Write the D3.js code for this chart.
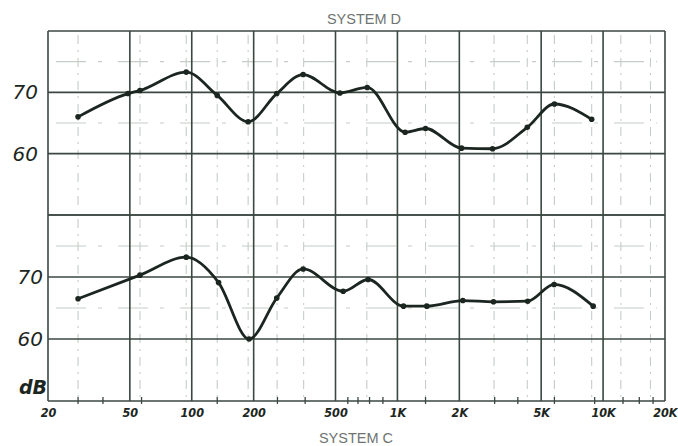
<!DOCTYPE html>
<html>
<head>
<meta charset="utf-8">
<script src="https://cdn.jsdelivr.net/npm/d3@7"></script>
<style>
  html, body { margin: 0; padding: 0; background: #ffffff; }
  svg { display: block; }
</style>
</head>
<body>
<svg id="chart" width="678" height="446"></svg>
<script>
// Frequency response of two systems, plotted on log-frequency graph paper.

// System D (upper panel)
const freqD = [28, 49, 56, 94, 133, 188, 259, 348, 525, 713, 1090, 1370, 2050, 2900, 4280, 5800, 8800];
const dbD   = [66.0, 69.8, 70.3, 73.3, 69.5, 65.2, 69.8, 72.9, 69.9, 70.8, 63.5, 64.1, 60.9, 60.8, 64.3, 68.1, 65.6];

// System C (lower panel)
const freqC = [28, 56, 94, 135, 190, 259, 348, 545, 720, 1070, 1390, 2080, 2930, 4300, 5780, 8950];
const dbC   = [66.5, 70.3, 73.2, 69.1, 60.0, 66.6, 71.3, 67.7, 69.6, 65.3, 65.3, 66.2, 66.0, 66.1, 68.8, 65.3];

// Axis labels and grid positions
const freqTicks = [20, 50, 100, 200, 500, 1000, 2000, 5000, 10000, 20000];
const freqTickLabels = ["20", "50", "100", "200", "500", "1K", "2K", "5K", "10K", "20K"];
const minorFreqs = [28, 56, 94, 133, 188, 260, 350, 710, 1370, 2950, 4280, 5800, 8800, 12200, 17000];
const smallTicks = [28, 37, 57, 133, 261, 356, 574, 643, 732, 850, 1370, 2970, 3850, 5800, 9100, 12500, 15000, 17500];
const majorDb = [50, 60, 70, 80];
const minorDb = [65, 75];
const dbLabels = [60, 70];
const titles = ["SYSTEM D", "SYSTEM C"];

const svg = d3.select("#chart");
const left = 48, right = 665;
const gridColor = "#3b4741";
const inkColor = "#1c2621";
const faintColor = "#c6cdc8";

const x = d3.scaleLog().domain([20, 20000]).range([left, right]);
const yD = d3.scaleLinear().domain([50, 80]).range([215, 31]);
const yC = d3.scaleLinear().domain([50, 80]).range([401, 215]);

const panels = [
  { y: yD, freq: freqD, db: dbD, labelPad: 10 },
  { y: yC, freq: freqC, db: dbC, labelPad: 5 }
];

// faint dashed minor grid
panels.forEach(p => {
  const [y0, y1] = [p.y(80), p.y(50)];
  svg.append("g").selectAll("line")
    .data(minorFreqs).join("line")
    .attr("x1", d => x(d)).attr("x2", d => x(d))
    .attr("y1", y0 + 4).attr("y2", y1 - 4)
    .attr("stroke", faintColor).attr("stroke-width", 1.1)
    .attr("stroke-dasharray", "9,6,2,6");
  svg.append("g").selectAll("line")
    .data(minorDb).join("line")
    .attr("x1", left + 8).attr("x2", right - 8)
    .attr("y1", d => p.y(d)).attr("y2", d => p.y(d))
    .attr("stroke", faintColor).attr("stroke-width", 1.1)
    .attr("stroke-dasharray", "30,12,4,16");
});

// major grid
panels.forEach(p => {
  svg.append("g").selectAll("line")
    .data(majorDb).join("line")
    .attr("x1", left).attr("x2", right)
    .attr("y1", d => p.y(d)).attr("y2", d => p.y(d))
    .attr("stroke", gridColor).attr("stroke-width", 1.6);
});
svg.append("g").selectAll("line")
  .data(freqTicks).join("line")
  .attr("x1", d => x(d)).attr("x2", d => x(d))
  .attr("y1", yD(80)).attr("y2", yC(50))
  .attr("stroke", gridColor).attr("stroke-width", 1.6);

// small ticks along the frequency axis
svg.append("g").selectAll("line")
  .data(smallTicks).join("line")
  .attr("x1", d => x(d)).attr("x2", d => x(d))
  .attr("y1", yC(50) - 4).attr("y2", yC(50) + 3)
  .attr("stroke", gridColor).attr("stroke-width", 1.3);

// frequency axis labels
const xAxis = d3.axisBottom(x)
  .tickValues(freqTicks)
  .tickFormat((d, i) => freqTickLabels[i])
  .tickSize(0).tickPadding(7);
const gx = svg.append("g").attr("transform", `translate(0,${yC(50)})`).call(xAxis);
gx.select(".domain").remove();
gx.selectAll("text")
  .attr("fill", inkColor)
  .style("font-family", "'DejaVu Sans Condensed', 'DejaVu Sans', sans-serif")
  .style("font-size", "12.5px").style("font-weight", "bold").style("font-style", "italic");
// keep the last label inside the page edge
gx.selectAll("text").filter(d => d === 20000).attr("text-anchor", "end").attr("dx", "12");

// dB labels for each panel
panels.forEach(p => {
  const yAxis = d3.axisLeft(p.y).tickValues(dbLabels).tickSize(0).tickPadding(p.labelPad);
  const gy = svg.append("g").attr("transform", `translate(${left},0)`).call(yAxis);
  gy.select(".domain").remove();
  gy.selectAll("text")
    .attr("fill", inkColor)
    .style("font-family", "'DejaVu Sans', sans-serif")
    .style("font-size", "20px").style("font-weight", "200").style("font-style", "italic");
});
svg.append("text")
  .attr("x", 47).attr("y", 394)
  .attr("text-anchor", "end")
  .attr("fill", inkColor)
  .style("font-family", "'DejaVu Sans', sans-serif")
  .style("font-size", "19px").style("font-weight", "bold").style("font-style", "italic")
  .text("dB");

// response curves and measurement points
panels.forEach(p => {
  const pts = p.freq.map((f, i) => [f, p.db[i]]);
  const line = d3.line().x(d => x(d[0])).y(d => p.y(d[1])).curve(d3.curveMonotoneX);
  svg.append("path").datum(pts)
    .attr("d", line)
    .attr("fill", "none").attr("stroke", inkColor)
    .attr("stroke-width", 2.8).attr("stroke-linejoin", "round").attr("stroke-linecap", "round");
  svg.append("g").selectAll("circle")
    .data(pts).join("circle")
    .attr("cx", d => x(d[0])).attr("cy", d => p.y(d[1]))
    .attr("r", 2.8).attr("fill", inkColor);
});

// titles
svg.append("text")
  .attr("x", 364).attr("y", 24).attr("text-anchor", "middle")
  .attr("fill", "#6f7471")
  .style("font-family", "'Liberation Sans', Arial, sans-serif").style("font-size", "14.5px")
  .text(titles[0]);
svg.append("text")
  .attr("x", 356).attr("y", 443).attr("text-anchor", "middle")
  .attr("fill", "#6f7471")
  .style("font-family", "'Liberation Sans', Arial, sans-serif").style("font-size", "14.5px")
  .text(titles[1]);
</script>
</body>
</html>
